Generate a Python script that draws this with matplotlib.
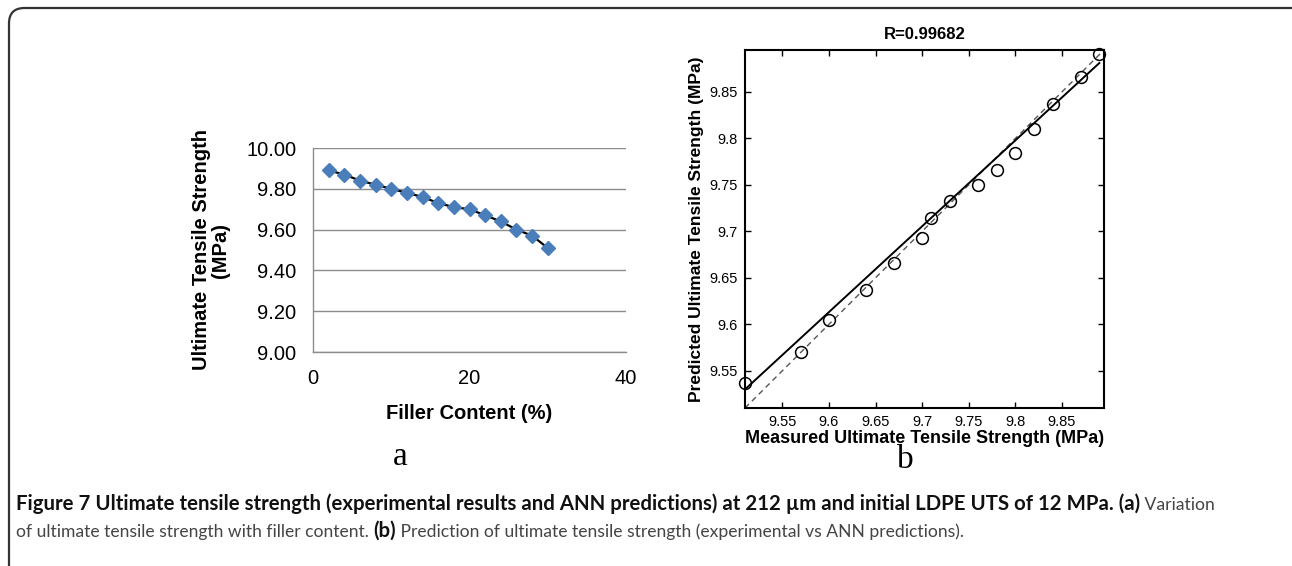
import numpy as np
import matplotlib
matplotlib.use("Agg")
import matplotlib.pyplot as plt
from matplotlib.patches import FancyBboxPatch

plt.rcParams["font.family"] = ["Liberation Sans", "DejaVu Sans"]

# ---- data ----
filler = [2, 4, 6, 8, 10, 12, 14, 16, 18, 20, 22, 24, 26, 28, 30]
uts = [9.89, 9.87, 9.84, 9.82, 9.80, 9.78, 9.76, 9.73, 9.71, 9.70, 9.67, 9.64, 9.60, 9.57, 9.51]

measured = [9.51, 9.57, 9.60, 9.64, 9.67, 9.70, 9.71, 9.73, 9.76, 9.78, 9.80, 9.82, 9.84, 9.87, 9.89]
predicted = [9.537, 9.570, 9.605, 9.637, 9.666, 9.693, 9.714, 9.733, 9.750, 9.766, 9.784, 9.810, 9.837, 9.866, 9.891]
fit_line = [9.530, 9.881]   # fitted line values at x = 9.51 and 9.89

a_yticks = [9.00, 9.20, 9.40, 9.60, 9.80, 10.00]
a_xticks = [0, 20, 40]
b_ticks = [9.55, 9.6, 9.65, 9.7, 9.75, 9.8, 9.85]
b_ticklabels = ["9.55", "9.6", "9.65", "9.7", "9.75", "9.8", "9.85"]
b_lim = [9.51, 9.895]

W, H = 1292, 566
fig = plt.figure(figsize=(W / 100, H / 100), dpi=100)
fig.patch.set_facecolor("white")

# ---- border ----
border = FancyBboxPatch((9 / W, -20 / H), (W + 40) / W, (H - 8 + 20) / H,
                        boxstyle="round,pad=0,rounding_size=0.012",
                        transform=fig.transFigure, fill=False,
                        edgecolor="#333333", linewidth=1.6, mutation_aspect=W / H)
fig.patches.append(border)

# ---- panel a ----
axa = fig.add_axes([313 / W, 1 - 352 / H, (626 - 313) / W, (352 - 148) / H])
axa.plot(filler, uts, color="black", lw=1.6, zorder=2)
axa.plot(filler, uts, ls="none", marker="D", ms=7, color="#4a7ebb", zorder=3)
axa.set_xlim(0, 40)
axa.set_ylim(9.0, 10.0)
axa.set_yticks(a_yticks)
axa.set_yticklabels([f"{v:.2f}" for v in a_yticks])
axa.set_xticks(a_xticks)
axa.tick_params(length=0, labelsize=14.5, pad=12)
axa.yaxis.grid(True, color="#8c8c8c", lw=1.0)
axa.set_axisbelow(True)
for s in ["top", "right"]:
    axa.spines[s].set_visible(False)
for s in ["left", "bottom"]:
    axa.spines[s].set_color("#8c8c8c")
    axa.spines[s].set_linewidth(1.0)
axa.set_xlabel("Filler Content (%)", fontsize=14.5, fontweight="bold", labelpad=12)
axa.set_ylabel("Ultimate Tensile Strength\n(MPa)", fontsize=14.5, fontweight="bold",
               labelpad=12, linespacing=1.0)
fig.text(400 / W, 1 - 457 / H, "a", fontsize=24, family="Liberation Serif",
         ha="center", va="center")

# ---- panel b ----
axb = fig.add_axes([745 / W, 1 - 408 / H, (1104 - 745) / W, (408 - 50) / H])
axb.plot(b_lim, b_lim, ls=(0, (4, 3)), color="#555555", lw=1.0)
axb.plot([b_lim[0], 9.89], fit_line, color="black", lw=1.4)
axb.plot(measured, predicted, ls="none", marker="o", ms=8.5, mfc="none",
         mec="black", mew=1.1, clip_on=False)
axb.set_xlim(b_lim)
axb.set_ylim(b_lim)
axb.set_xticks(b_ticks)
axb.set_xticklabels(b_ticklabels)
axb.set_yticks(b_ticks)
axb.set_yticklabels(b_ticklabels)
axb.tick_params(direction="in", top=True, right=True, length=4, width=1.0,
                labelsize=10.5, pad=5)
for s in axb.spines.values():
    s.set_linewidth(1.5)
axb.set_title("R=0.99682", fontsize=12, fontweight="bold", pad=8)
axb.set_xlabel("Measured Ultimate Tensile Strength (MPa)", fontsize=13,
               fontweight="bold", labelpad=1)
axb.set_ylabel("Predicted Ultimate Tensile Strength (MPa)", fontsize=12.5,
               fontweight="bold", labelpad=4)
fig.text(905 / W, 1 - 460 / H, "b", fontsize=24, family="Liberation Serif",
         ha="center", va="center")

# ---- caption ----
fig.canvas.draw()
renderer = fig.canvas.get_renderer()
bold_font = ["Lato", "DejaVu Sans"]
reg_font = ["Lato", "DejaVu Sans"]

line1 = [("Figure 7 Ultimate tensile strength (experimental results and ANN predictions) "
          "at 212 \u00b5m and initial LDPE UTS of 12 MPa. (a)", True),
         (" Variation", False)]
line2 = [("of ultimate tensile strength with filler content. ", False),
         ("(b)", True),
         (" Prediction of ultimate tensile strength (experimental vs ANN predictions).", False)]


def width_of(txt, bold, size):
    t = fig.text(0, 0, txt, fontsize=size, family=bold_font if bold else reg_font,
                 fontweight="bold" if bold else "normal")
    w = t.get_window_extent(renderer=renderer).width
    t.remove()
    return w


sb = 14.0
sb = sb * 1131 / width_of(line1[0][0], True, sb)
sr = 0.86 * sb


def put_parts(parts, x0, ybase):
    x = x0
    for txt, bold in parts:
        t = fig.text(x, ybase, txt, fontsize=sb if bold else sr,
                     family=bold_font if bold else reg_font,
                     fontweight="bold" if bold else "normal",
                     color="#111111" if bold else "#444444",
                     ha="left", va="baseline")
        bb = t.get_window_extent(renderer=renderer)
        x += bb.width / W


put_parts(line1, 16 / W, 1 - 510 / H)
put_parts(line2, 16 / W, 1 - 537 / H)

fig.savefig("out.png", dpi=100, facecolor="white")
